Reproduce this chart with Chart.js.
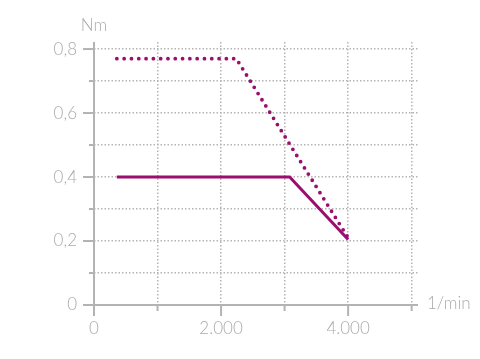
<!DOCTYPE html>
<html>
<head>
<meta charset="utf-8">
<script src="https://cdn.jsdelivr.net/npm/chart.js@4/dist/chart.umd.min.js"></script>
<style>
html,body{margin:0;padding:0;background:#fff;}
#wrap{position:relative;width:480px;height:359px;}
</style>
</head>
<body>
<div id="wrap"><canvas id="c" width="480" height="359"></canvas></div>
<script>
// Data
const solidX = [360, 3080, 4000];
const solidY = [0.40, 0.40, 0.205];
const dottedX = [360, 2240, 4000];
const dottedY = [0.77, 0.77, 0.21];
const xTicks = [0, 1000, 2000, 3000, 4000, 5000];
const xLabels = ['0', '', '2.000', '', '4.000', ''];
const yTicks = [0, 0.1, 0.2, 0.3, 0.4, 0.5, 0.6, 0.7, 0.8];
const yLabels = ['0', '', '0,2', '', '0,4', '', '0,6', '', '0,8'];
const xUnit = '1/min';
const yUnit = 'Nm';

const LINE = '#9b0d6e';
const GRAY = '#b3b3b3';
const TEXT = '#aaaaaa';
const FONT = "'Lato', 'Open Sans', sans-serif";
const FSIZE = 17;

const toPts = (xs, ys) => xs.map((x, i) => ({x: x, y: ys[i]}));

const axisPlugin = {
  id: 'axisPlugin',
  afterDraw(chart) {
    const ctx = chart.ctx;
    const xs = chart.scales.x, ys = chart.scales.y;
    const area = chart.chartArea;
    ctx.save();
    ctx.strokeStyle = GRAY;
    ctx.lineWidth = 2;
    ctx.setLineDash([]);
    const x0 = xs.getPixelForValue(0);
    const y0 = ys.getPixelForValue(0);
    ctx.beginPath();
    ctx.moveTo(x0, area.top);
    ctx.lineTo(x0, y0);
    ctx.moveTo(x0, y0);
    ctx.lineTo(area.right, y0);
    ctx.stroke();
    yTicks.forEach((v, i) => {
      const p = ys.getPixelForValue(v);
      const len = yLabels[i] ? 11 : 5;
      ctx.beginPath();
      ctx.moveTo(x0 - len, p);
      ctx.lineTo(x0, p);
      ctx.stroke();
    });
    xTicks.forEach((v, i) => {
      const p = xs.getPixelForValue(v);
      ctx.beginPath();
      if (xLabels[i]) { ctx.moveTo(p, y0); ctx.lineTo(p, y0 + 11); }
      else { ctx.moveTo(p, y0 - 1); ctx.lineTo(p, y0 + 6); }
      ctx.stroke();
    });
    ctx.fillStyle = TEXT;
    ctx.font = '300 ' + FSIZE + 'px ' + FONT;
    ctx.textBaseline = 'middle';
    ctx.textAlign = 'left';
    ctx.fillText(xUnit, area.right + 9, y0 - 1);
    ctx.textAlign = 'center';
    ctx.fillText(yUnit, x0, area.top - 16);
    ctx.restore();
  }
};

new Chart(document.getElementById('c'), {
  type: 'scatter',
  data: {
    datasets: [
      {
        data: toPts(dottedX, dottedY),
        showLine: true,
        borderColor: LINE,
        borderWidth: 3.8,
        borderDash: [0, 7.3],
        borderCapStyle: 'round',
        pointRadius: 0,
        fill: false
      },
      {
        data: toPts(solidX, solidY),
        showLine: true,
        borderColor: LINE,
        borderWidth: 3,
        borderCapStyle: 'butt',
        borderJoinStyle: 'miter',
        pointRadius: 0,
        fill: false
      }
    ]
  },
  plugins: [axisPlugin],
  options: {
    responsive: false,
    animation: false,
    events: [],
    layout: {padding: {top: 42, right: 62, left: 0, bottom: 0}},
    plugins: {legend: {display: false}, tooltip: {enabled: false}},
    scales: {
      x: {
        type: 'linear',
        min: 0, max: 5100,
        afterBuildTicks: s => { s.ticks = xTicks.map(v => ({value: v})); },
        afterFit: s => { s.height = 54; },
        ticks: {
          autoSkip: false, maxRotation: 0,
          color: TEXT, padding: 13,
          font: {family: FONT, size: FSIZE, weight: '300'},
          callback: (v, i) => xLabels[i]
        },
        grid: {
          drawTicks: false,
          color: c => (c.tick && c.tick.value === 0) ? 'rgba(0,0,0,0)' : GRAY,
          lineWidth: 1.5
        },
        border: {display: false, dash: [1.5, 2]}
      },
      y: {
        type: 'linear',
        min: 0, max: 0.822,
        afterBuildTicks: s => { s.ticks = yTicks.map(v => ({value: v})); },
        afterFit: s => { s.width = 94; },
        ticks: {
          autoSkip: false,
          color: TEXT, padding: 17,
          font: {family: FONT, size: FSIZE, weight: '300'},
          callback: (v, i) => yLabels[i]
        },
        grid: {
          drawTicks: false,
          color: c => (c.tick && c.tick.value === 0) ? 'rgba(0,0,0,0)' : GRAY,
          lineWidth: 1.5
        },
        border: {display: false, dash: [1.5, 2]}
      }
    }
  }
});
</script>
</body>
</html>
